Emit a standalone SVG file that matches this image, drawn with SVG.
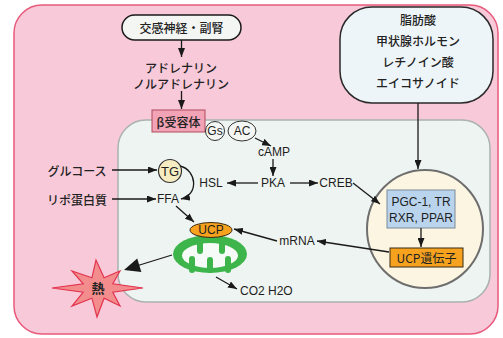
<svg xmlns="http://www.w3.org/2000/svg" width="503" height="338" viewBox="0 0 503 338">
  <defs>
    <marker id="arr" markerUnits="userSpaceOnUse" markerWidth="9" markerHeight="7" refX="9" refY="3.5" orient="auto">
      <path d="M0,0 L9,3.5 L0,7 z" fill="#1a1a1a"/>
    </marker>
    <style>
      .jp { font-family: "Noto Sans CJK JP", "Noto Sans", sans-serif; font-size: 12px; font-weight: 500; fill: #222; text-anchor: middle; dominant-baseline: central; }
      .lt { font-family: "Liberation Sans", Arial, sans-serif; font-size: 12px; fill: #1e1e1e; text-anchor: middle; dominant-baseline: central; }
      .ln { fill: none; stroke: #1a1a1a; stroke-width: 1.3; marker-end: url(#arr); }
    </style>
  </defs>

  <!-- background cell -->
  <rect x="14" y="5" width="484" height="329" rx="28" fill="#f8c9d8" stroke="#e85a7c" stroke-width="1.5"/>
  <rect x="118" y="120" width="372" height="182" rx="28" fill="#eef4f1" stroke="#a9b2b1" stroke-width="1.5"/>

  <!-- nucleus -->
  <g id="nucleus">
    <ellipse cx="425" cy="229" rx="58" ry="59" fill="#fcf5e2" stroke="#6e6e6e" stroke-width="2"/>
  </g>

  <g id="sympathetic">
    <rect x="122" y="15" width="119" height="25" rx="12.5" fill="#f4f6f4" stroke="#1a1a1a" stroke-width="1.5"/>
    <text class="jp" x="181.5" y="27.5">交感神経・副腎</text>
  </g>

  <g id="adrenaline">
    <text class="jp" x="181" y="67">アドレナリン</text>
    <text class="jp" x="181" y="83">ノルアドレナリン</text>
  </g>

  <g id="beta-receptor">
    <rect x="152" y="110" width="53" height="22" fill="#f2a3b6" stroke="#b04a5e" stroke-width="1"/>
    <text class="jp" x="178.5" y="121">β受容体</text>
  </g>

  <g id="gs">
    <circle cx="215" cy="131" r="9.5" fill="#f4f6f4" stroke="#333" stroke-width="1"/>
    <text class="lt" x="215" y="131">Gs</text>
  </g>
  <g id="ac">
    <ellipse cx="242" cy="131" rx="14" ry="10" fill="#f4f6f4" stroke="#333" stroke-width="1"/>
    <text class="lt" x="242" y="131">AC</text>
  </g>

  <g id="camp"><text class="lt" x="274" y="152">cAMP</text></g>
  <g id="pka"><text class="lt" x="273" y="183">PKA</text></g>
  <g id="creb"><text class="lt" x="336" y="183">CREB</text></g>
  <g id="hsl"><text class="lt" x="211" y="183">HSL</text></g>

  <g id="tg">
    <circle cx="170" cy="171" r="11.5" fill="#f6ecc2" stroke="#333" stroke-width="1.2"/>
    <text class="lt" x="170" y="171" style="font-size:13px">TG</text>
  </g>
  <g id="glucose"><text class="jp" x="77" y="170">グルコース</text></g>
  <g id="lipoprotein"><text class="jp" x="77" y="199">リポ蛋白質</text></g>
  <g id="ffa"><text class="lt" x="168" y="199">FFA</text></g>

  <g id="mitochondrion">
    <ellipse cx="210" cy="254" rx="37" ry="19" fill="#3db54a"/>
    <ellipse cx="210" cy="255.5" rx="28" ry="12.5" fill="#f6fbf7"/>
    <g stroke="#3db54a" stroke-width="6" stroke-linecap="round">
      <line x1="200" y1="240" x2="200" y2="251"/>
      <line x1="222" y1="240" x2="222" y2="251"/>
      <line x1="192" y1="270" x2="192" y2="259"/>
      <line x1="210" y1="270" x2="210" y2="260"/>
      <line x1="228" y1="270" x2="228" y2="259"/>
    </g>
  </g>

  <g id="ucp">
    <ellipse cx="211" cy="230" rx="21" ry="7.5" fill="#f6a21f" stroke="#3a2a10" stroke-width="1"/>
    <text class="lt" x="211" y="230">UCP</text>
  </g>

  <g id="mrna"><text class="lt" x="297" y="241">mRNA</text></g>
  <g id="products"><text class="lt" x="240" y="291" style="text-anchor:start">CO2 H2O</text></g>

  <g id="heat">
    <polygon points="143,288 112.8,283.8 120,271 104.1,277.8 96,260 91.9,277.8 72,271 83.2,283.8 52,288 83.2,292.2 72,306 91.9,298.2 97,317 104.1,298.2 120,306 112.8,292.2" fill="#f38d8d" stroke="#e2344f" stroke-width="1.2" stroke-linejoin="miter"/>
    <text class="jp" x="98" y="287" style="font-size:13px;font-weight:700">熱</text>
  </g>

  <g id="ligands">
    <rect x="340" y="7" width="153" height="96" rx="32" fill="#eef5f8" stroke="#2a2a2a" stroke-width="1.5"/>
    <text class="jp" x="418" y="19">脂肪酸</text>
    <text class="jp" x="418" y="40">甲状腺ホルモン</text>
    <text class="jp" x="418" y="61">レチノイン酸</text>
    <text class="jp" x="418" y="82">エイコサノイド</text>
  </g>

  <g id="receptors">
    <rect x="387" y="190" width="68" height="38" fill="#b9d4ec" stroke="#7a8a99" stroke-width="1"/>
    <text class="lt" x="421" y="202">PGC-1, TR</text>
    <text class="lt" x="421" y="218">RXR, PPAR</text>
  </g>

  <g id="ucp-gene">
    <rect x="390" y="248" width="73" height="19" fill="#f6a21f" stroke="#3a2a10" stroke-width="1"/>
    <text class="jp" x="426.5" y="257.5" style="font-weight:400">UCP遺伝子</text>
  </g>

  <!-- connectors -->
  <g id="connectors">
    <line class="ln" x1="181.5" y1="40" x2="181.5" y2="57"/>
    <line class="ln" x1="181.5" y1="91" x2="181.5" y2="109"/>
    <line class="ln" x1="255" y1="138" x2="271" y2="146"/>
    <line class="ln" x1="273" y1="159" x2="273" y2="176"/>
    <line class="ln" x1="258" y1="183" x2="227" y2="183"/>
    <line class="ln" x1="290" y1="183" x2="318" y2="183"/>
    <line class="ln" x1="353" y1="183" x2="380" y2="204"/>
    <line class="ln" x1="418" y1="103" x2="418" y2="169"/>
    <line class="ln" x1="421" y1="228" x2="421" y2="247"/>
    <line class="ln" x1="389" y1="252" x2="317" y2="241"/>
    <line class="ln" x1="277" y1="241" x2="234" y2="229"/>
    <line class="ln" x1="112" y1="170" x2="157" y2="170"/>
    <line class="ln" x1="112" y1="199" x2="156" y2="199"/>
    <path class="ln" d="M180,166 C197,170 199,195 181,199"/>
    <line class="ln" x1="176" y1="206" x2="194" y2="222"/>
    <line class="ln" x1="216" y1="277" x2="237" y2="289"/>
    <line x1="172" y1="255" x2="138" y2="265.5" stroke="#1a1a1a" stroke-width="1.3"/>
    <polygon points="124,270 137.2,258.5 141.4,271.9" fill="#1a1a1a"/>
  </g>
</svg>
